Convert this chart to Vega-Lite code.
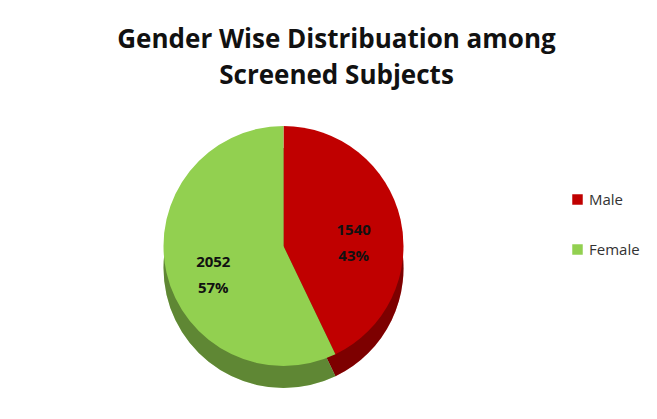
{
  "$schema": "https://vega.github.io/schema/vega-lite/v6.json",
  "width": 657,
  "height": 419,
  "autosize": {"type": "fit", "contains": "padding"},
  "background": "white",
  "padding": {"top": 27, "left": 10, "right": 100, "bottom": 22},
  "title": {
    "text": ["Gender Wise Distribuation among", "Screened Subjects"],
    "font": "Open Sans",
    "fontSize": 26,
    "fontWeight": "bold",
    "color": "#111111",
    "lineHeight": 36,
    "anchor": "middle",
    "dx": 53,
    "offset": 6
  },
  "data": {
    "values": [
      {"gender": "Male", "count": 1540, "label": "1540\n43%"},
      {"gender": "Female", "count": 2052, "label": "2052\n57%"}
    ]
  },
  "encoding": {
    "theta": {"field": "count", "type": "quantitative", "stack": true},
    "order": {"field": "gender", "sort": "descending"}
  },
  "layer": [
    {
      "mark": {"type": "arc", "outerRadius": 120, "y": {"expr": "height/2 + 22"}},
      "encoding": {
        "color": {
          "field": "gender",
          "type": "nominal",
          "scale": {"domain": ["Male", "Female"], "range": ["#C00000", "#92D050"]},
          "legend": {
            "title": null,
            "orient": "none",
            "legendX": 560,
            "legendY": 97,
            "symbolType": "square",
            "symbolSize": 110,
            "symbolStrokeWidth": 0,
            "labelFont": "Open Sans",
            "labelFontSize": 15,
            "labelColor": "#333333",
            "rowPadding": 34
          }
        }
      }
    },
    {
      "mark": {"type": "arc", "outerRadius": 120, "y": {"expr": "height/2 + 22"}, "fill": "#000000", "opacity": 0.35}
    },
    {
      "mark": {"type": "arc", "outerRadius": 120, "y": {"expr": "height/2"}},
      "encoding": {
        "color": {"field": "gender", "type": "nominal"}
      }
    },
    {
      "mark": {
        "type": "text",
        "radius": 72,
        "y": {"expr": "height/2"},
        "lineBreak": "\n",
        "font": "Open Sans",
        "fontSize": 15,
        "fontWeight": "bold",
        "color": "#111111",
        "lineHeight": 26
      },
      "encoding": {
        "text": {"field": "label", "type": "nominal"}
      }
    }
  ],
  "config": {"view": {"stroke": null}}
}
